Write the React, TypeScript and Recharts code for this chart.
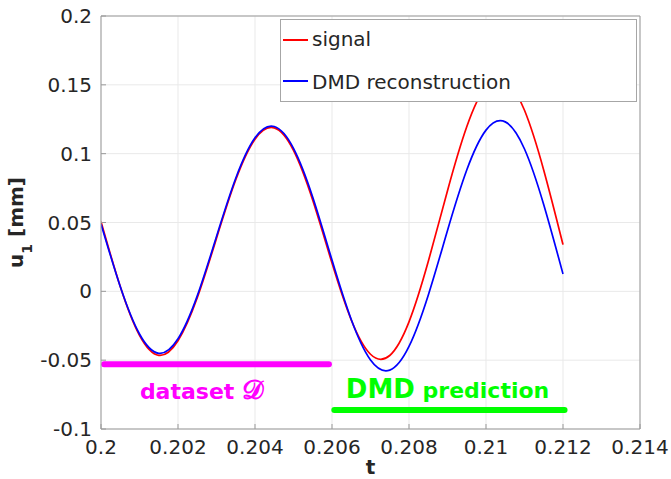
import React from 'react';
import {
  CartesianGrid,
  Legend,
  Line,
  LineChart,
  ReferenceDot,
  ReferenceLine,
  XAxis,
  YAxis,
} from 'recharts';

// time samples (s)
const times = [
  0.2, 0.2005, 0.201, 0.2015, 0.202, 0.2025, 0.203, 0.2035, 0.204, 0.2045, 0.205, 0.2055, 0.206,
  0.2065, 0.207, 0.2075, 0.208, 0.2085, 0.209, 0.2095, 0.21, 0.2105, 0.211, 0.2115, 0.212,
];

// u1 [mm], measured signal
const signal = [
  0.0506, 0.0035, -0.032, -0.0465, -0.0359, -0.0047, 0.0385, 0.081, 0.1105, 0.1187, 0.1024, 0.0661,
  0.0205, -0.0208, -0.0457, -0.0466, -0.0222, 0.0216, 0.0731, 0.1195, 0.1489, 0.1536, 0.1315, 0.088,
  0.0339,
];

// u1 [mm], DMD reconstruction / prediction
const dmdReconstruction = [
  0.049, 0.0035, -0.031, -0.045, -0.0345, -0.0033, 0.0398, 0.0821, 0.1115, 0.1197, 0.1039, 0.0684,
  0.0227, -0.0205, -0.0499, -0.0572, -0.04, -0.0028, 0.0442, 0.0881, 0.1171, 0.1231, 0.1034, 0.0629,
  0.0126,
];

const seriesNames = ['signal', 'DMD reconstruction'];

const xTicks = [0.2, 0.202, 0.204, 0.206, 0.208, 0.21, 0.212, 0.214];
const yTicks = [-0.1, -0.05, 0, 0.05, 0.1, 0.15, 0.2];

// spans of the dataset / prediction bars and where their captions sit
const datasetSpan = [0.20008, 0.20592];
const datasetLevel = -0.053;
const predictionSpan = [0.20606, 0.21204];
const predictionLevel = -0.0862;
const datasetCaption = { t: 0.20101, u: -0.0782 };
const predictionCaption = { t: 0.20636, u: -0.0775 };

const data = times.map((t, i) => ({ t, signal: signal[i], dmd: dmdReconstruction[i] }));

const FONT = 'DejaVu Sans';
const TEXT = '#262626';
const AXIS = '#9a9a9a';

const renderLegend = (props: any) => {
  const payload = [...(props.payload || [])].sort(
    (a: any, b: any) => seriesNames.indexOf(a.value) - seriesNames.indexOf(b.value),
  );
  return (
    <div
      style={{
        position: 'relative',
        width: 355,
        height: 81,
        border: '1px solid #a6a6a6',
        background: '#ffffff',
        fontFamily: FONT,
        fontSize: 20,
        color: TEXT,
      }}
    >
      {payload.map((entry: any, i: number) => (
        <React.Fragment key={entry.value}>
          <div
            style={{
              position: 'absolute',
              left: 2,
              top: i === 0 ? 19 : 60,
              width: 25,
              height: 2,
              background: entry.color,
            }}
          />
          <div
            style={{
              position: 'absolute',
              left: 31,
              top: i === 0 ? 7.6 : 50.9,
              lineHeight: '23px',
              whiteSpace: 'nowrap',
            }}
          >
            {entry.value}
          </div>
        </React.Fragment>
      ))}
    </div>
  );
};

const renderYLabel = (props: any) => {
  const vb = props.viewBox;
  const cx = 23;
  const cy = vb.y + vb.height / 2;
  return (
    <text
      x={cx}
      y={cy}
      transform={`rotate(-90 ${cx} ${cy})`}
      textAnchor="middle"
      fontFamily={FONT}
      fontWeight="bold"
      fontSize={20}
      fill={TEXT}
    >
      u
      <tspan fontSize={14} dy={9}>
        1
      </tspan>
      <tspan dy={-9}> [mm]</tspan>
    </text>
  );
};

const renderXLabel = (props: any) => {
  const vb = props.viewBox;
  return (
    <text
      x={vb.x + vb.width / 2}
      y={vb.y + 45}
      textAnchor="middle"
      fontFamily={FONT}
      fontWeight="bold"
      fontSize={20}
      fill={TEXT}
    >
      t
    </text>
  );
};

const datasetText = (p: any) => (
  <text x={p.cx} y={p.cy} fontFamily={FONT} fill="#ff00ff">
    <tspan fontWeight="bold" fontSize={22}>
      dataset{' '}
    </tspan>
    <tspan fontSize={27} fontWeight="bold">
      𝒟
    </tspan>
  </text>
);

const predictionText = (p: any) => (
  <text x={p.cx} y={p.cy} fontFamily={FONT} fontWeight="bold" fill="#00ff00">
    <tspan fontSize={26}>DMD</tspan>
    <tspan fontSize={22}> prediction</tspan>
  </text>
);

export default function App() {
  return (
    <div style={{ position: 'absolute', left: 0, top: 0 }}>
      <LineChart
        width={671}
        height={479}
        data={data}
        margin={{ top: 15, right: 30, bottom: 0, left: 0 }}
        style={{ fontFamily: FONT, background: '#ffffff' }}
      >
        <CartesianGrid stroke="#e9e9e9" strokeWidth={1} />
        <XAxis
          dataKey="t"
          type="number"
          domain={[0.2, 0.214]}
          ticks={xTicks}
          interval={0}
          height={50}
          tickSize={-5}
          tickMargin={16}
          stroke={AXIS}
          tick={{ fill: TEXT, fontSize: 20 }}
          allowDataOverflow
          label={renderXLabel}
        />
        <XAxis
          xAxisId="top"
          orientation="top"
          dataKey="t"
          type="number"
          domain={[0.2, 0.214]}
          ticks={xTicks}
          interval={0}
          height={1}
          tickSize={-5}
          tick={false}
          stroke={AXIS}
          allowDataOverflow
        />
        <YAxis
          type="number"
          domain={[-0.1, 0.2]}
          ticks={yTicks}
          interval={0}
          width={101}
          tickSize={-5}
          tickMargin={14}
          stroke={AXIS}
          tick={{ fill: TEXT, fontSize: 20 }}
          allowDataOverflow
          label={renderYLabel}
        />
        <YAxis
          yAxisId="right"
          orientation="right"
          type="number"
          domain={[-0.1, 0.2]}
          ticks={yTicks}
          interval={0}
          width={1}
          tickSize={-5}
          tick={false}
          stroke={AXIS}
          allowDataOverflow
        />
        <Legend
          layout="vertical"
          align="center"
          verticalAlign="middle"
          content={renderLegend}
          wrapperStyle={{ left: 280, top: 19, width: 357, height: 83 }}
        />
        <Line
          name="signal"
          dataKey="signal"
          type="natural"
          stroke="#ff0000"
          strokeWidth={1.7}
          dot={false}
          activeDot={false}
          isAnimationActive={false}
        />
        <Line
          name="DMD reconstruction"
          dataKey="dmd"
          type="natural"
          stroke="#0000ff"
          strokeWidth={1.7}
          dot={false}
          activeDot={false}
          isAnimationActive={false}
        />
        <ReferenceLine
          segment={[
            { x: datasetSpan[0], y: datasetLevel },
            { x: datasetSpan[1], y: datasetLevel },
          ]}
          stroke="#ff00ff"
          strokeWidth={6}
          strokeLinecap="round"
        />
        <ReferenceLine
          segment={[
            { x: predictionSpan[0], y: predictionLevel },
            { x: predictionSpan[1], y: predictionLevel },
          ]}
          stroke="#00ff00"
          strokeWidth={6}
          strokeLinecap="round"
        />
        <ReferenceDot x={datasetCaption.t} y={datasetCaption.u} r={0} shape={datasetText} />
        <ReferenceDot x={predictionCaption.t} y={predictionCaption.u} r={0} shape={predictionText} />
      </LineChart>
    </div>
  );
}
